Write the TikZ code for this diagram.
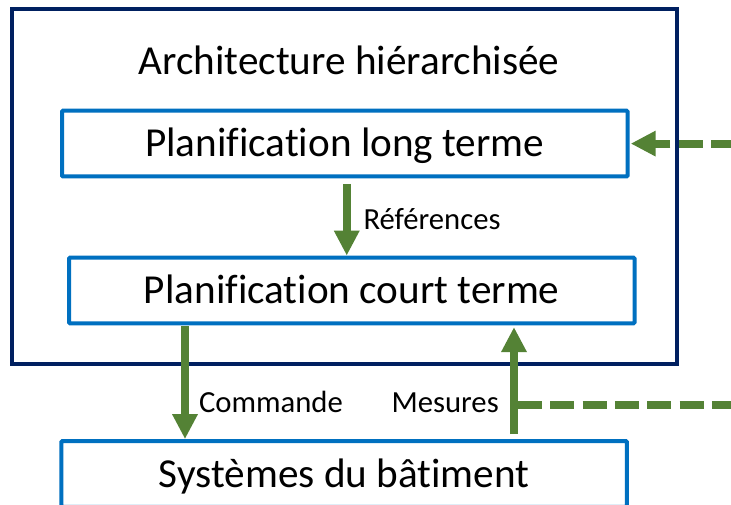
\documentclass[tikz,border=0pt]{standalone}
\usepackage{fontspec}
\setmainfont{Carlito}[Ligatures=NoCommon]
\usetikzlibrary{arrows.meta,calc,backgrounds}
\definecolor{navy}{HTML}{002060}
\definecolor{boxblue}{HTML}{0070C0}
\definecolor{arrgreen}{HTML}{548235}
\begin{document}
\begin{tikzpicture}[x=1pt,y=-1pt,
  every node/.style={inner sep=0pt, outer sep=0pt},
  bigfont/.style={font=\fontsize{41.2}{48}\selectfont},
  blockbox/.style={bigfont, draw=boxblue, line width=4pt, minimum width=565.5pt,
    minimum height=65.8pt, text height=26.8pt, text depth=0pt, rounded corners=1pt},
  framebox/.style={draw=navy, line width=4pt},
  flow/.style={draw=arrgreen, line width=8pt, -{Triangle[width=24pt,length=25pt]}},
  dashflow/.style={flow, dash pattern=on 24pt off 8.3pt},
  dashline/.style={draw=arrgreen, line width=8pt, dash pattern=on 24pt off 8.3pt},
  lbl/.style={font=\fontsize{30.7}{36}\selectfont, anchor=base west}
]
\clip (0,0) rectangle (731,505);
\useasboundingbox (0,0) rectangle (731,505);

% container
\node[framebox, minimum width=665.5pt, minimum height=354pt] (arch) at (344.25,186.5) {};
\node[bigfont, anchor=base] (title) at (349,75) {Architecture hiérarchisée};

% blocks
\node[blockbox] (long) at (344.75,143.6) {Planification long terme};
\node[blockbox] (short) at (351.75,290.5) {Planification court terme};
\node[blockbox] (sys) at (344.15,474) {Systèmes du bâtiment};

% helper coordinates
\coordinate (cmdx) at (185,0);
\coordinate (mesx) at (514,0);
\coordinate (feedin) at (735,143.6);
\coordinate (meastap) at (518,404.5);
\coordinate (feedout) at (760,404.5);

% connectors
\draw[flow] ($(long.south)+(2,7.5)$) -- ($(long.south |- short.north)+(2,-2)$);
\draw[flow] ($(short.south -| cmdx)+(0,3)$) -- ($(sys.north -| cmdx)+(0,-2)$);
\draw[flow] ($(sys.north -| mesx)+(0,-7)$) -- ($(short.south -| mesx)+(0,3.7)$);
\begin{scope}[on background layer]
\fill[white] (0,0) rectangle (731,505);
\draw[dashflow] (feedin) -- ($(long.east)+(3.2,0)$);
\end{scope}
\draw[dashline] (meastap) -- (feedout);

% labels
\node[lbl] (reflbl) at (363.5,229.3) {Références};
\node[lbl] (cmdlbl) at (199,412) {Commande};
\node[lbl] (meslbl) at (391.5,412) {Mesures};
\end{tikzpicture}
\end{document}
